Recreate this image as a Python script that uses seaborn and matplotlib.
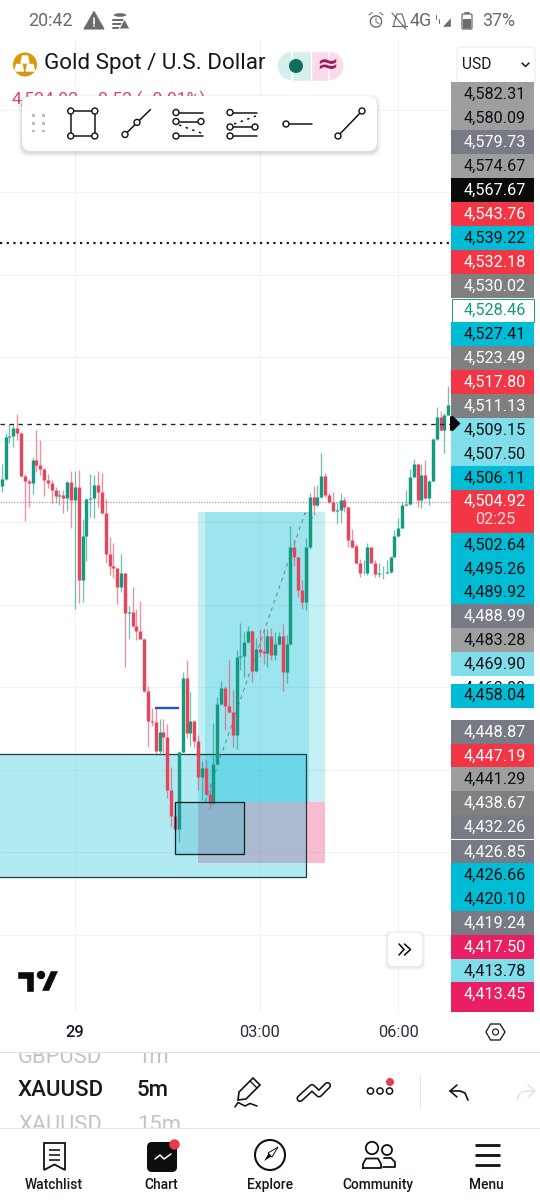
import numpy as np
import pandas as pd
import seaborn as sns
import matplotlib
matplotlib.use("Agg")
import matplotlib.pyplot as plt
from matplotlib.patches import Rectangle, Circle, FancyBboxPatch, Polygon, Wedge, Ellipse

# ---- DATA -------------------------------------------------------------
opens = [4508.9,4510.5,4520.8,4520.9,4522.9,4521.6,4511.2,4510.0,4509.5,4515.1,
         4513.8,4513.0,4510.2,4509.6,4507.8,4506.4,4506.5,4505.8,4509.7,4505.3,
         4508.5,4486.0,4496.7,4505.7,4506.0,4509.0,4507.3,4502.2,4492.3,4489.3,
         4488.9,4484.4,4487.6,4478.1,4478.2,4474.9,4473.6,4471.8,4459.0,4451.9,
         4451.7,4444.6,4449.1,4448.0,4435.0,4428.7,4425.6,4444.4,4462.2,4449.0,
         4451.8,4447.1,4438.2,4440.4,4434.1,4431.9,4441.4,4456.0,4459.8,4455.5,
         4453.9,4448.4,4467.4,4467.5,4471.1,4473.7,4464.0,4469.3,4468.8,4468.3,
         4472.4,4467.8,4470.5,4472.4,4463.8,4470.5,4494.1,4491.5,4483.6,4480.8,
         4494.1,4506.1,4504.2,4506.1,4511.3,4506.5,4505.0,4502.8,4503.0,4505.3,
         4503.8,4495.6,4494.2,4490.1,4487.6,4487.7,4493.9,4490.2,4487.4,4487.6,
         4487.8,4488.0,4491.7,4496.8,4498.7,4504.2,4504.4,4511.1,4514.1,4505.3,
         4511.5,4505.8,4510.1,4520.2,4525.5,4522.4,4526.0]
highs = [4514.1,4521.6,4523.8,4523.8,4526.3,4521.8,4511.7,4510.4,4515.9,4522.4,
         4520.0,4513.1,4511.7,4510.3,4508.6,4507.8,4507.8,4510.1,4512.4,4512.5,
         4512.8,4500.7,4505.8,4511.7,4511.5,4512.5,4512.0,4505.6,4496.5,4495.1,
         4489.0,4492.2,4487.8,4479.7,4484.2,4478.9,4480.9,4471.9,4460.2,4454.9,
         4454.9,4452.2,4452.2,4451.1,4440.8,4431.9,4444.5,4463.6,4466.5,4458.8,
         4452.1,4448.4,4442.2,4442.4,4436.7,4451.4,4457.6,4461.6,4460.3,4466.5,
         4459.4,4469.1,4475.5,4473.5,4474.9,4473.9,4471.9,4474.1,4474.1,4474.1,
         4474.3,4473.3,4473.3,4475.4,4472.7,4499.2,4495.9,4491.7,4486.0,4496.2,
         4507.0,4508.8,4509.1,4516.7,4512.0,4507.2,4507.4,4505.0,4507.2,4506.1,
         4504.0,4498.4,4494.8,4491.0,4490.9,4495.1,4494.1,4490.9,4490.2,4489.3,
         4490.9,4491.8,4498.1,4501.0,4505.0,4507.8,4512.9,4515.4,4514.3,4514.1,
         4515.1,4510.3,4520.4,4528.0,4527.1,4526.4,4533.1]
lows  = [4507.4,4510.3,4519.3,4518.2,4520.0,4510.9,4500.4,4503.6,4506.9,4512.3,
         4511.5,4506.4,4508.2,4504.8,4504.6,4504.2,4502.3,4502.7,4498.5,4479.0,
         4480.5,4480.8,4490.5,4501.4,4501.0,4503.8,4502.0,4490.1,4487.2,4486.4,
         4480.2,4483.2,4465.0,4471.8,4474.7,4471.5,4471.6,4458.9,4445.5,4450.5,
         4443.6,4443.6,4444.0,4433.1,4426.2,4425.3,4422.6,4444.0,4447.6,4445.8,
         4445.5,4435.1,4432.7,4433.9,4430.4,4431.5,4441.2,4455.7,4449.7,4453.7,
         4445.6,4445.0,4464.2,4462.4,4470.8,4461.4,4463.8,4467.4,4465.7,4465.0,
         4466.5,4466.5,4470.3,4459.0,4461.1,4470.3,4489.3,4482.0,4479.0,4478.7,
         4493.5,4501.8,4503.6,4505.8,4506.2,4504.6,4502.6,4499.6,4499.9,4502.6,
         4494.1,4493.7,4489.9,4486.8,4487.5,4487.2,4490.1,4486.7,4486.8,4486.2,
         4487.6,4487.8,4491.5,4496.5,4498.5,4504.0,4504.2,4510.9,4503.6,4503.4,
         4505.6,4504.2,4509.9,4520.0,4522.2,4516.9,4525.9]
closes= [4510.5,4520.8,4520.9,4522.9,4521.6,4511.2,4510.0,4509.5,4515.1,4513.8,
         4513.0,4510.2,4509.6,4507.8,4506.4,4506.6,4505.8,4509.7,4505.3,4508.5,
         4486.0,4496.7,4505.7,4506.0,4509.0,4507.3,4502.2,4492.3,4489.3,4488.9,
         4484.4,4487.6,4478.1,4478.3,4474.9,4473.6,4471.8,4459.0,4451.8,4451.7,
         4444.6,4449.1,4448.0,4435.0,4428.7,4425.6,4444.4,4462.2,4449.0,4451.8,
         4447.1,4438.2,4440.4,4434.1,4431.9,4441.4,4456.0,4459.8,4455.5,4453.9,
         4448.4,4467.4,4467.6,4471.1,4473.7,4464.0,4469.3,4468.5,4468.3,4472.4,
         4467.8,4470.5,4472.4,4463.8,4470.5,4494.1,4491.5,4483.6,4480.8,4494.1,
         4506.1,4504.2,4506.1,4511.3,4506.5,4505.0,4502.8,4503.0,4505.3,4503.8,
         4495.6,4494.1,4490.1,4487.6,4487.8,4493.9,4490.2,4487.5,4487.6,4487.8,
         4488.0,4491.7,4496.8,4498.7,4504.2,4504.4,4511.1,4514.1,4505.3,4511.5,
         4505.8,4510.1,4520.2,4525.5,4522.4,4526.0,4528.4]

axis_prices = ["4,582.31","4,580.09","4,579.73","4,574.67","4,567.67","4,543.76","4,539.22",
               "4,532.18","4,530.02","4,528.46","4,527.41","4,523.49","4,517.80","4,511.13",
               "4,509.15","4,507.50","4,506.11","4,504.92","4,502.64","4,495.26","4,489.92",
               "4,488.99","4,483.28","4,469.90","4,458.04","4,448.87","4,447.19","4,441.29",
               "4,438.67","4,432.26","4,426.85","4,426.66","4,420.10","4,419.24","4,417.50",
               "4,413.78","4,413.45"]
tick_labels = ["29", "03:00", "06:00"]
tick_bars = [19, 67, 103]
nav_labels = ["Watchlist", "Chart", "Explore", "Community", "Menu"]

last_price = 4504.92
dashed_price = 4523.83
dotted_price = 4567.67
big_zone = (4414.0, 4443.83)
target_zone = (4432.2, 4502.4)
stop_zone = (4417.5, 4432.2)
small_zone = (4419.6, 4432.2)
blue_level = 4454.9

# ---- STYLE ------------------------------------------------------------
sns.set_theme(style="white")
plt.rcParams['font.family'] = ['Roboto', 'DejaVu Sans']
GREEN, RED = "#149a80", "#e6465c"
CYAN = "#00bcd4"
W, H = 540, 1200
BAR0, BARW = 1.7, 3.85          # pixel of bar 0, pixels per bar
PX_PRICE = 4.125                # pixels per price unit
Y4500 = 522.3                   # pixel of price 4500

def bx(px): return (px - BAR0) / BARW
def py(px): return 4500 + (Y4500 - px) / PX_PRICE

fig = plt.figure(figsize=(W / 100, H / 100), dpi=100, facecolor="white")
CT, CB, CR = 40, 1012, 451
ax = fig.add_axes([0, 1 - CB / H, CR / W, (CB - CT) / H])
ax.set_facecolor("white")
ax.set_xlim(bx(0), bx(CR))
ax.set_ylim(py(CB), py(CT))
for s in ax.spines.values():
    s.set_visible(False)

# ---- CANDLES ----------------------------------------------------------
candles = pd.DataFrame({"open": opens, "high": highs, "low": lows, "close": closes})
candles["bar"] = np.arange(len(candles))
candles["dir"] = np.where(candles["close"] >= candles["open"], "up", "down")
wicks = candles.melt(id_vars=["bar", "dir"], value_vars=["low", "high"], value_name="price").sort_values(["bar", "variable"])
bodies = candles.melt(id_vars=["bar", "dir"], value_vars=["open", "close"], value_name="price").sort_values(["bar", "variable"])
pal = {"up": GREEN, "down": RED}

# grid
ax.set_yticks(np.arange(4400, 4620, 20))
ax.set_xticks(tick_bars)
ax.set_xticklabels(tick_labels, fontsize=11.9, color="#2a2e39")
ax.get_xticklabels()[0].set_fontweight("medium")
ax.get_xticklabels()[0].set_color("#131722")
ax.set_yticklabels([])
ax.tick_params(axis="x", length=0, pad=9.5)
ax.tick_params(axis="y", length=0)
ax.grid(True, color="#f1f2f6", linewidth=0.8, zorder=0)
ax.set_axisbelow(True)

# zones
def zone(x0, x1, lims, color, alpha, z, **kw):
    ax.add_patch(Rectangle((bx(x0), lims[0]), bx(x1) - bx(x0), lims[1] - lims[0],
                           facecolor=color, alpha=alpha, edgecolor="none", zorder=z, **kw))

zone(198, 325, target_zone, CYAN, 0.23, 1)
zone(205, 309, target_zone, CYAN, 0.20, 1.1)
zone(198, 325, stop_zone, "#e91e63", 0.30, 1.2)
zone(-5, 305.5, big_zone, CYAN, 0.30, 1.3)
ax.add_patch(Rectangle((bx(-5), big_zone[0]), bx(305.5) - bx(-5), big_zone[1] - big_zone[0],
                       fill=False, edgecolor="#1d3b44", linewidth=0.9, zorder=1.4))

sns.lineplot(data=wicks, x="bar", y="price", units="bar", hue="dir", palette=pal, estimator=None,
             sort=False, linewidth=0.95, alpha=0.6, legend=False, ax=ax, zorder=3,
             solid_capstyle="butt")
sns.lineplot(data=bodies, x="bar", y="price", units="bar", hue="dir", palette=pal, estimator=None,
             sort=False, linewidth=2.45, legend=False, ax=ax, zorder=4,
             solid_capstyle="butt")
ax.set_xlabel(""); ax.set_ylabel("")
ax.set_xlim(bx(0), bx(CR))
ax.set_ylim(py(CB), py(CT))

# small rectangle in front of the candles
ax.add_patch(Rectangle((bx(175), small_zone[0]), bx(244) - bx(175), small_zone[1] - small_zone[0],
                       facecolor="#1aa3c4", alpha=0.22, edgecolor="none", zorder=5))
ax.add_patch(Rectangle((bx(175), small_zone[0]), bx(244) - bx(175), small_zone[1] - small_zone[0],
                       fill=False, edgecolor="#10262c", linewidth=0.95, zorder=5.1))

# level lines
ax.axhline(dashed_price, color="#1e222d", lw=0.95, dashes=(3.4, 3.4), zorder=6)
ax.axhline(dotted_price, color="#1a1a1a", lw=1.6, dashes=(1, 2.0), zorder=6)
ax.axhline(last_price, color="#c98d96", lw=0.9, dashes=(1, 1.2), zorder=2.5)
ax.plot([bx(155), bx(179)], [blue_level, blue_level], color="#2457c5", lw=1.7, zorder=6,
        solid_capstyle="butt")
ax.plot([bx(205), bx(305), bx(313)], [py(802), py(513), py(518)], color="#6f8f95", lw=0.8,
        dashes=(3.5, 3.5), zorder=3.5)

# ---- OVERLAY (pixel space) --------------------------------------------
ov = fig.add_axes([0, 0, 1, 1], facecolor="none")
ov.set_xlim(0, W); ov.set_ylim(H, 0); ov.axis("off")
INK = "#111111"
PT = 0.72

def txt(x, y, s, size, color=INK, ha="left", va="center", weight="normal", z=10, alpha=None, **kw):
    return ov.text(x, y, s, fontsize=size, color=color, ha=ha, va=va, fontweight=weight,
                   zorder=z, alpha=alpha, **kw)

def line(xs, ys, lw=1.5, color=INK, z=10, **kw):
    ov.plot(xs, ys, lw=lw * PT, color=color, zorder=z, solid_capstyle=kw.pop("cap", "round"),
            solid_joinstyle="round", **kw)

def ring(x, y, r=3.0, lw=1.4, color=INK, z=11, fc="white"):
    ov.add_patch(Circle((x, y), r, facecolor=fc, edgecolor=color, linewidth=lw * PT, zorder=z))

def disc(x, y, r, color, z=11):
    ov.add_patch(Circle((x, y), r, facecolor=color, edgecolor="none", zorder=z))

def rbox(x0, y0, x1, y1, r, fc, ec="none", lw=0, z=9, **kw):
    ov.add_patch(FancyBboxPatch((x0 + r, y0 + r), x1 - x0 - 2 * r, y1 - y0 - 2 * r,
                                boxstyle=f"round,pad={r},rounding_size={r}", facecolor=fc,
                                edgecolor=ec, linewidth=lw, zorder=z, **kw))

# status bar
GR = "#6b6b6b"
txt(28, 21, "20:42", 12.9, GR)
ov.add_patch(Polygon([[84, 29], [104, 29], [94, 11.5]], facecolor=GR, edgecolor=GR, lw=0.8, zorder=10))
line([94, 94], [17.5, 23.5], 1.6, "white")
disc(94, 26, 0.9, "white")
ov.add_patch(Ellipse((120, 15), 14, 5, facecolor=GR, zorder=10))
for yy in (20, 24, 28):
    line([113, 123], [yy, yy], 2, GR)
ov.add_patch(Polygon([[119, 29], [130, 29], [124.5, 19]], facecolor=GR, edgecolor="white", lw=0.7, zorder=11))
ov.add_patch(Circle((376, 21.5), 5.6, facecolor="none", edgecolor=GR, lw=1.0, zorder=10))
line([376, 376, 379], [18, 22, 23.5], 1, GR)
line([369, 372], [15, 12.5], 1.1, GR); line([383, 380], [15, 12.5], 1.1, GR)
line([394, 394, 397, 402, 405, 405], [26, 23, 14, 14, 23, 26], 1.2, GR)
line([392, 407], [26, 26], 1.2, GR)
line([392, 406], [13, 29], 1.2, GR)
txt(410, 21, "4G", 12.9, GR)
ov.add_patch(Polygon([[441, 27], [451, 27], [451, 16]], facecolor=GR, zorder=10))
line([436, 436], [15, 19], 1, GR); line([439, 439], [23, 19], 1, GR)
rbox(462, 14, 472, 29, 1.2, "white", GR, 0.9, z=10)
rbox(463, 19, 471, 28.5, 0.8, GR, z=11)
line([465, 469], [12.6, 12.6], 1.8, GR)
txt(482, 21, "37%", 12.9, GR)

# header
disc(25, 64.5, 12, "#d9980b")
for (xa, xb, ya, yb) in [(21, 29, 56, 63), (15, 23.5, 64.5, 71), (26, 34.5, 64.5, 71)]:
    ov.add_patch(Polygon([[xa + 1.5, ya], [xb - 1.5, ya], [xb, yb], [xa, yb]], facecolor="white", zorder=12))
txt(44, 64, "Gold Spot / U.S. Dollar", 16.15, "#131722")
ov.add_patch(Wedge((292, 66), 15, 90, 270, facecolor="#d4efec", zorder=9))
ov.add_patch(Rectangle((292, 51), 19, 30, facecolor="#d4efec", zorder=9))
ov.add_patch(Rectangle((311, 51), 18, 30, facecolor="#fcdbe8", zorder=9))
ov.add_patch(Wedge((329, 66), 15, -90, 90, facecolor="#fcdbe8", zorder=9))
disc(296, 66, 7, "#0f6f5e")
txt(327, 65, "≈", 19, "#a4155f", ha="center", weight="bold", family=["DejaVu Sans"])
rbox(457, 47, 535, 83, 4, "white", "#eeeeee", 0.9)
txt(462, 64.5, "USD", 11.2, "#131722")
line([522, 525.5, 529], [63, 66.5, 63], 1.5, "#131722")
txt(12, 99.5, "4,524.92", 12.6, "#e0455c", z=8)
txt(88, 99.5, "−0.52 (−0.01%)", 12.6, "#e0455c", z=8)

# toolbar
for k, a in ((4, 0.025), (2.5, 0.04), (1.2, 0.07)):
    rbox(22 - k, 96 - k + 2, 377 + k, 151 + k + 2, 9, "black", alpha=a, z=8.6)
rbox(22, 96, 377, 151, 9, "white", z=9)
for xx in (33.5, 43.5):
    for yy in (115.5, 123.5, 131):
        ov.add_patch(Rectangle((xx - 1.3, yy - 1.3), 2.6, 2.6, facecolor="#b9bcc4", edgecolor="none", zorder=10))
line([70.7, 94.8, 94.8, 70.7, 70.7], [111, 111, 136, 136, 111])
for p in ((70.7, 111), (94.8, 111), (70.7, 136), (94.8, 136)):
    ring(*p)
line([125, 150.5], [134.5, 109.5]); ring(125, 134.5); ring(137, 122.4)
line([176, 203], [112.5, 112.5]); line([176, 201], [121.5, 121.5]); line([176, 203], [136, 136])
ov.plot([179, 201], [125, 133], color=INK, lw=1.1, dashes=(1.6, 3), zorder=10)
ring(176, 112.5); ring(176, 121.5); ring(201, 121.5); ring(176, 136)
line([230, 257], [112.5, 112.5]); line([230, 255], [127, 127]); line([230, 257], [136, 136])
ov.plot([234, 256], [124, 116], color=INK, lw=1.1, dashes=(1.6, 3), zorder=10)
ring(230, 112.5); ring(230, 127); ring(255, 127); ring(230, 136)
line([286, 312], [124, 124]); ring(286, 124)
line([338, 362], [136, 111]); ring(338, 136); ring(362, 111)

# price-axis column
GA, GB, GC = "#9e9e9e", "#787b86", "#808080"
LC, RD, PK = "#80deea", "#f23645", "#e91e63"
DK, WH = "#0d1117", "#ffffff"
cells = [(94, GA, DK), (118, GA, DK), (142, GB, WH), (166, GA, DK), (190, "#0a0a0a", WH), (214, RD, WH),
         (238, CYAN, DK), (262, RD, WH), (286, GC, WH), (310, WH, "#149a80"), (334, CYAN, DK), (358, GC, WH),
         (382, RD, WH), (406, GC, WH), (430, LC, DK), (454, LC, DK), (478, CYAN, DK), (501, RD, WH),
         (545, CYAN, DK), (569, CYAN, DK), (592, CYAN, DK), (616, GB, WH), (640, GA, DK), (664, LC, DK),
         (695.5, CYAN, DK), (732, GB, WH), (756, RD, WH), (779, GA, DK), (803, GC, WH), (827, GB, WH),
         (852, GB, WH), (875, CYAN, DK), (899, CYAN, DK), (923, GB, WH), (947, PK, WH), (971, LC, DK),
         (994, PK, WH)]
for i, ((yc, bg, fg), lab) in enumerate(zip(cells, axis_prices)):
    top = yc - 12
    bot = yc + 12
    if lab == "4,504.92":
        top, bot = 490, 533
    if lab == "4,458.04":
        top, bot = 683.5, 708
    if lab == "4,502.64":
        top = 533
    if lab == "4,413.45":
        bot = 1012
    if lab == "4,528.46":
        ov.add_patch(Rectangle((451.5, top + 0.5), 82, 23, facecolor="white", edgecolor="#149a80",
                               linewidth=0.7, zorder=9))
    else:
        ov.add_patch(Rectangle((451, top), 83, bot - top, facecolor=bg, edgecolor="none", zorder=9))
    txt(495, yc + 0.3, lab, 11.7, fg, ha="center", z=11)
txt(495, 520, "02:25", 11.7, "#f9d9dd", ha="center", z=11)
txt(495, 688, "4,468.00", 11.7, DK, ha="center", z=8.5)
ov.add_patch(Polygon([[450, 416.5], [453, 416], [460.5, 423.5], [453, 431], [450, 430.5]],
                     facecolor="#0a0a0a", edgecolor="none", zorder=12))

# TradingView logo + scroll button
ov.add_patch(Polygon([[16.5, 970.5], [33.5, 970.5], [33.5, 991.5], [25.5, 991.5], [25.5, 979], [16.5, 979]],
                     facecolor="#0b0b0b", zorder=10))
disc(41, 975, 4.2, "#0b0b0b")
ov.add_patch(Polygon([[50.5, 970.5], [59, 970.5], [49.5, 991.5], [41, 991.5]], facecolor="#0b0b0b", zorder=10))
for k, a in ((3, 0.03), (1.5, 0.05)):
    rbox(388 - k, 933 - k + 1, 422 + k, 966 + k + 1, 5, "black", alpha=a, z=8.6)
rbox(388, 933, 422, 966, 5, "white")
line([399, 404, 399], [944, 949.5, 955], 1.6)
line([404.5, 410.5, 404.5], [944, 949.5, 955], 1.6)

# hexagon button
ov.add_patch(Polygon([[486, 1032], [490.5, 1024], [500, 1024], [505, 1032], [500, 1040], [490.5, 1040]],
                     facecolor="white", edgecolor="#1a1a1a", lw=0.95, zorder=10))
ring(495.5, 1032, 3, 1.1)

# separators
line([0, 540], [1052, 1052], 1, "#dfe0e3", cap="butt")
line([0, 540], [1128, 1128], 1, "#e6e6e8", cap="butt")
line([420, 420], [1074, 1108], 1, "#e8e8e8", cap="butt")

# symbol picker
for (yy, a, b) in [(1057.5, "GBPUSD", "1m"), (1125.5, "XAUUSD", "15m")]:
    for xx, s in ((18, a), (137, b)):
        t = txt(xx, yy, s, 15.8, "#c4c4c4", clip_on=True)
        t.set_clip_path(Rectangle((0, 1052.5), W, 75, transform=ov.transData))
txt(18, 1090, "XAUUSD", 16, "#1a1a1a", weight="medium")
txt(137, 1090, "5m", 16, "#1a1a1a", weight="medium")

# pencil
ov.add_patch(Polygon([[239, 1092], [253, 1078], [260, 1085], [246, 1099], [238, 1100]], facecolor="white",
                     edgecolor=INK, lw=1.2, zorder=10))
line([250, 257], [1081, 1088], 1.3)
line([235, 238, 245, 250, 257], [1107, 1102.5, 1106, 1103.5, 1106], 1.6)
# trend icon
line([300, 312, 319, 327.5], [1098.5, 1087.5, 1094, 1085.5], 7.2)
line([300, 312, 319, 327.5], [1098.5, 1087.5, 1094, 1085.5], 4, "white", z=11)
# dots
for xx in (370.5, 380, 389.5):
    ring(xx, 1091, 3.1, 1.5)
disc(390, 1082, 4, "#e8394d", z=12)
# undo / redo
line([457, 450, 457], [1085, 1091, 1097], 1.6)
line([450, 460, 465, 468], [1091, 1091, 1093, 1100], 1.7)
line([528, 535, 528], [1085, 1091, 1097], 1.6, "#e5e5e5")
line([535, 525, 520, 517], [1091, 1091, 1093, 1100], 1.7, "#e5e5e5")

# bottom navigation
for x, lab in zip((54, 161, 270, 378, 486), nav_labels):
    txt(x, 1185, lab, 9.9, "#131722", ha="center", weight="medium")
ov.add_patch(Polygon([[44, 1143], [65, 1143], [65, 1170], [54.5, 1164.5], [44, 1170]], facecolor="white",
                     edgecolor=INK, lw=1.3, zorder=10))
for yy in (1150, 1155, 1160):
    line([49, 60], [yy, yy], 1.6, cap="butt")
rbox(147, 1142, 177, 1172, 5, "#0d0d0d", z=10)
line([155, 160, 164, 171], [1159, 1155, 1159, 1154], 1.5, "white", z=11)
disc(174.5, 1144.5, 5.2, "#e8394d", z=12)
ov.add_patch(Circle((270, 1155), 15, facecolor="white", edgecolor=INK, lw=1.5, zorder=10))
ov.add_patch(Polygon([[262, 1163], [268, 1153], [278, 1147], [272, 1157]], facecolor="#111111", zorder=11))
ov.add_patch(Polygon([[268, 1153], [278, 1147], [272, 1157]], facecolor="white", edgecolor=INK, lw=0.7, zorder=12))
ov.add_patch(Circle((372, 1148), 6.2, facecolor="white", edgecolor=INK, lw=1.3, zorder=10))
ov.add_patch(Circle((387, 1150), 5, facecolor="white", edgecolor=INK, lw=1.3, zorder=10))
line([363, 363, 366, 378, 381, 381, 363], [1168, 1164, 1158.5, 1158.5, 1164, 1168, 1168], 1.8)
line([384, 391, 395, 395, 383], [1158, 1158, 1162, 1167, 1167], 1.8)
for yy in (1145, 1155, 1165):
    line([474.5, 500], [yy, yy], 2.8, cap="butt")

fig.savefig("out.png", dpi=100, facecolor="white")
